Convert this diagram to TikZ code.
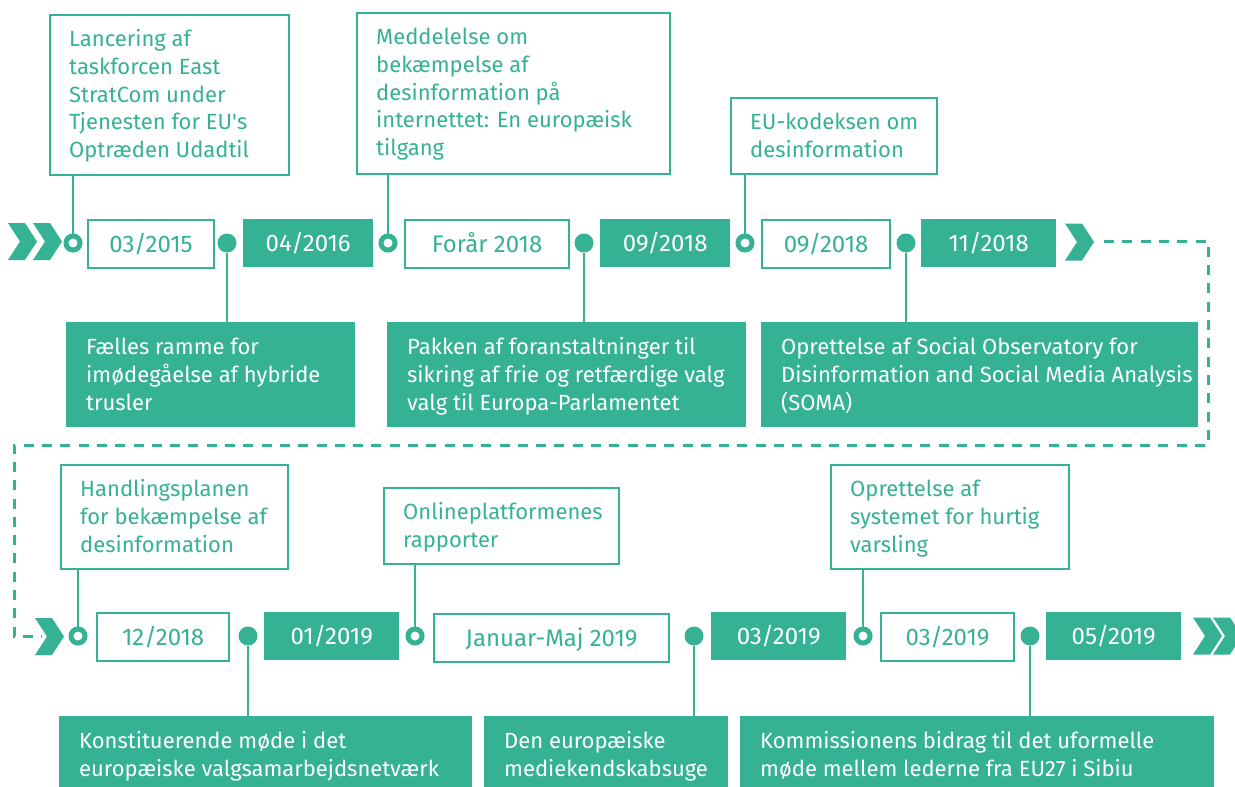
\documentclass[tikz,border=0pt]{standalone}
\usepackage{fontspec}
\setmainfont{Fira Sans}
\newfontfamily\plainfs{Fira Sans}
\usetikzlibrary{calc}
\definecolor{eugreen}{RGB}{53,177,147}
\newcommand\rect[7]{\node[#1, minimum width={#5-#3}, minimum height={#6-#4}] (#2) at (#3,#4) {#7};}
\newcommand\chev[2]{\fill[eugreen] (#1,#2) ++(0,-18.5) -- ++(17,0) -- ++(12,18.5) -- ++(-12,18.5) -- ++(-17,0) -- ++(12,-18.5) -- cycle;}
\newcommand\lines[1]{\parbox[t]{600pt}{#1}}
\newcommand\apos{{\plainfs'}}
\begin{document}
\begin{tikzpicture}[x=1pt,y=-1pt,
  box/.style={rectangle, inner sep=0pt, anchor=north west},
  obox/.style={box, draw=eugreen, line width=2.2pt, fill=white, text=eugreen},
  fbox/.style={box, fill=eugreen, text=white},
  dtext/.style={font=\fontsize{24}{28}\selectfont, text height=16.5pt, text depth=0pt},
  odate/.style={obox, dtext},
  fdate/.style={fbox, dtext},
  ctext/.style={anchor=base west, inner sep=0pt, font=\fontsize{22}{27.8}\selectfont},
  otext/.style={ctext, text=eugreen},
  ftext/.style={ctext, text=white},
  odot/.style={circle, draw=eugreen, line width=5pt, fill=white, minimum size=14pt, inner sep=0pt},
  fdot/.style={circle, fill=eugreen, minimum size=19pt, inner sep=0pt},
  conn/.style={draw=eugreen, line width=2.5pt},
  dashline/.style={draw=eugreen, line width=3pt, dash pattern=on 10pt off 8.3pt}
]
\useasboundingbox (0,0) rectangle (1235,787);
\clip (0,0) rectangle (1235,787);

% dashed link between rows
\coordinate (ds) at (1104,241);
\coordinate (dc1) at (1208,241);
\coordinate (dc2) at (1208,445);
\coordinate (dc3) at (14,445);
\coordinate (dc4) at (14,636);
\coordinate (de) at (42,636);
\draw[dashline] (ds) -- (dc1) -- (dc2) -- (dc3) -- (dc4) -- (de);

% chevrons
\chev{8}{241.5}
\chev{33}{241.5}
\chev{1065}{242}
\chev{35}{636.5}
\chev{1193}{636}
\chev{1213}{636}

% ---------- row 1 ----------
\rect{odate}{D1}{87}{219}{213}{267}{03/2015}
\rect{fdate}{D2}{243}{219}{373}{267}{04/2016}
\rect{odate}{D3}{404}{219}{568}{267}{Forår 2018}
\rect{fdate}{D4}{600}{219}{730}{267}{09/2018}
\rect{odate}{D5}{761}{219}{889}{267}{09/2018}
\rect{fdate}{D6}{921}{219}{1056}{267}{11/2018}

\rect{obox}{A1}{49}{14}{288}{174}{}
\node[otext] (A1t) at ($(A1.north west)+(20,32.5)$) {\lines{Lancering af\\taskforcen East\\StratCom under\\Tjenesten for EU\apos s\\Optræden Udadtil}};
\rect{obox}{A2}{356}{12}{669}{173}{}
\node[otext] (A2t) at ($(A2.north west)+(20,32.5)$) {\lines{Meddelelse om\\bekæmpelse af\\desinformation på\\internettet: En europæisk\\tilgang}};
\rect{obox}{A3}{730}{97}{936}{173}{}
\node[otext] (A3t) at ($(A3.north west)+(20,32.5)$) {\lines{EU-kodeksen om\\desinformation}};

\rect{fbox}{B1}{66}{322}{355}{427}{}
\node[ftext] (B1t) at ($(B1.north west)+(20,32.5)$) {\lines{Fælles ramme for\\imødegåelse af hybride\\trusler}};
\rect{fbox}{B2}{387}{322}{746}{427}{}
\node[ftext] (B2t) at ($(B2.north west)+(20,32.5)$) {\lines{Pakken af foranstaltninger til\\sikring af frie og retfærdige valg\\valg til Europa-Parlamentet}};
\rect{fbox}{B3}{761}{322}{1198}{427}{}
\node[ftext] (B3t) at ($(B3.north west)+(20,32.5)$) {\lines{Oprettelse af Social Observatory for\\Disinformation and Social Media Analysis\\(SOMA)}};

\node[odot] (p1) at (73,243) {};
\node[fdot] (p2) at (227,243) {};
\node[odot] (p3) at (388,243) {};
\node[fdot] (p4) at (584,243) {};
\node[odot] (p5) at (745,243) {};
\node[fdot] (p6) at (906,243) {};

\draw[conn] (A1.south -| p1) -- (p1.north);
\draw[conn] (A2.south -| p3) -- (p3.north);
\draw[conn] (A3.south -| p5) -- (p5.north);
\draw[conn] (p2.south) -- (p2.south |- B1.north);
\draw[conn] (p4.south) -- (p4.south |- B2.north);
\draw[conn] (p6.south) -- (p6.south |- B3.north);

% ---------- row 2 ----------
\rect{odate}{E1}{96}{612}{228}{660}{12/2018}
\rect{fdate}{E2}{264}{612}{399}{660}{01/2019}
\rect{odate}{E3}{433}{613}{668}{661}{Januar-Maj 2019}
\rect{fdate}{E4}{711}{612}{846}{660}{03/2019}
\rect{odate}{E5}{880}{612}{1013}{660}{03/2019}
\rect{fdate}{E6}{1046}{612}{1181}{660}{05/2019}

\rect{obox}{C1}{60}{464}{287}{568}{}
\node[otext] (C1t) at ($(C1.north west)+(20,32.5)$) {\lines{Handlingsplanen\\for bekæmpelse af\\desinformation}};
\rect{obox}{C2}{383}{487}{618}{563}{}
\node[otext] (C2t) at ($(C2.north west)+(20,32.5)$) {\lines{Onlineplatformenes\\rapporter}};
\rect{obox}{C3}{830}{464}{1068}{568}{}
\node[otext] (C3t) at ($(C3.north west)+(20,32.5)$) {\lines{Oprettelse af\\systemet for hurtig\\varsling}};

\rect{fbox}{F1}{59}{716}{472}{790}{}
\node[ftext] (F1t) at ($(F1.north west)+(20,32.5)$) {\lines{Konstituerende møde i det\\europæiske valgsamarbejdsnetværk}};
\rect{fbox}{F2}{484}{716}{728}{790}{}
\node[ftext] (F2t) at ($(F2.north west)+(20,32.5)$) {\lines{Den europæiske\\mediekendskabsuge}};
\rect{fbox}{F3}{740}{716}{1214}{790}{}
\node[ftext] (F3t) at ($(F3.north west)+(20,32.5)$) {\lines{Kommissionens bidrag til det uformelle\\møde mellem lederne fra EU27 i Sibiu}};

\node[odot] (q1) at (78,636) {};
\node[fdot] (q2) at (248,636) {};
\node[odot] (q3) at (415,636) {};
\node[fdot] (q4) at (694,636) {};
\node[odot] (q5) at (863,636) {};
\node[fdot] (q6) at (1030,636) {};

\draw[conn] (C1.south -| q1) -- (q1.north);
\draw[conn] (C2.south -| q3) -- (q3.north);
\draw[conn] (C3.south -| q5) -- (q5.north);
\draw[conn] (q2.south) -- (q2.south |- F1.north);
\draw[conn] (q4.south) -- (q4.south |- F2.north);
\draw[conn] (q6.south) -- (q6.south |- F3.north);
\end{tikzpicture}
\end{document}
